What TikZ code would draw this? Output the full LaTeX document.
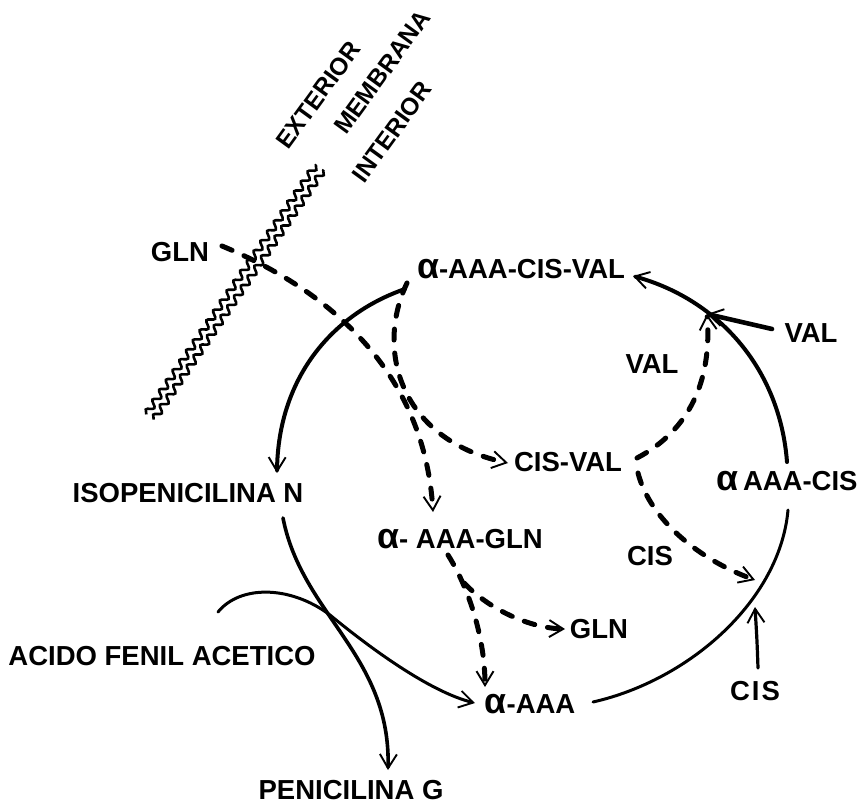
\documentclass[tikz,border=0pt]{standalone}
\usepackage{fontspec}
\setmainfont{Liberation Sans}
\usepackage{graphicx}
\usetikzlibrary{arrows.meta,decorations.pathmorphing}
\newcommand\alf{\scalebox{1.3}{α}}
\begin{document}
\begin{tikzpicture}[x=1pt,y=-1pt,
  lbl/.style={font=\bfseries\fontsize{27.5}{30}\selectfont, inner sep=0pt},
  rlbl/.style={font=\bfseries\fontsize{24.5}{28}\selectfont, inner sep=0pt, rotate=54},
  tip/.style={-{Straight Barb[length=14pt,width=17pt,line width=1.9pt]}},
  solidarc/.style={tip, line width=3.6pt, line cap=round},
  thinarc/.style={line width=3pt, line cap=round},
  dashline/.style={tip, line width=5pt, line cap=round, dash pattern=on 11pt off 13pt},
  membrane/.style={line width=2.6pt, decorate, decoration={snake, segment length=12pt, amplitude=3.2pt}}
]
\useasboundingbox (0,0) rectangle (864,805);

% membrane
\coordinate (ma1) at (146.3,414.4); \coordinate (ma2) at (316.3,164.4);
\coordinate (mb1) at (153.7,419.6); \coordinate (mb2) at (323.7,169.6);
\draw[membrane] (ma1) -- (ma2);
\draw[membrane] (mb1) -- (mb2);

% labels
\node[rlbl] (ext) at (318,95) {EXTERIOR};
\node[rlbl] (mem) at (382,72) {MEMBRANA};
\node[rlbl] (int) at (392,132) {INTERIOR};

\node[lbl] (gln) at (180,252) {GLN};
\node[lbl] (acv) at (521,269) {\alf-AAA-CIS-VAL};
\node[lbl] (valr) at (811,333) {VAL};
\node[lbl] (vali) at (652,364) {VAL};
\node[lbl] (iso) at (188,493) {ISOPENICILINA N};
\node[lbl] (cisval) at (568,462) {CIS-VAL};
\node[lbl] (aaacis) at (787,481) {\alf\,AAA-CIS};
\node[lbl] (aaagln) at (460,539) {\alf- AAA-GLN};
\node[lbl] (cism) at (650,556) {CIS};
\node[lbl] (glnl) at (599,629) {GLN};
\node[lbl] (acido) at (162,656) {ACIDO FENIL ACETICO};
\node[lbl] (aaa) at (530,704) {\alf-AAA};
\node[lbl] (cisb) at (755,691) {C\hspace{2pt}I\hspace{2pt}S};
\node[lbl] (peng) at (351,790) {PENICILINA G};

% connector end points
\coordinate (acv-sw) at (405,289);
\coordinate (acv-d) at (407,283);
\coordinate (acv-e) at (633,276);
\coordinate (iso-n) at (277,473);
\coordinate (iso-s) at (283,518);
\coordinate (peng-n) at (388,770);
\coordinate (acido-s) at (218,612);
\coordinate (aaa-w) at (475,703);
\coordinate (aaa-e) at (593,702);
\coordinate (aaa-n) at (485,687);
\coordinate (aaacis-s) at (788,510);
\coordinate (aaacis-n) at (787,462);
\coordinate (J) at (707,314);
\coordinate (valr-w) at (772,329);
\coordinate (cisval-e) at (637,458);
\coordinate (cisval-se) at (638,473);
\coordinate (cisval-w) at (508,463);
\coordinate (arcpt) at (755,580);
\coordinate (cisb-n) at (758,668);
\coordinate (cisb-tip) at (755,607);
\coordinate (gln-e) at (222,246);
\coordinate (aaagln-n) at (433,512);
\coordinate (aaagln-s) at (448,555);
\coordinate (K) at (464,583);
\coordinate (glnl-w) at (565,629);

% solid arcs
\draw[solidarc, line width=4pt] (acv-sw) .. controls (330,315) and (278,380) .. (iso-n);
\draw[solidarc] (iso-s) .. controls (302,615) and (391,655) .. (peng-n);
\draw[tip, thinarc] (acido-s) .. controls (240,585) and (290,585) .. (330,615)
   .. controls (370,648) and (430,692) .. (aaa-w);
\draw[thinarc] (aaa-e) .. controls (690,680) and (780,600) .. (aaacis-s);
\draw[solidarc, line width=4pt] (aaacis-n) .. controls (780,370) and (720,300) .. (acv-e);
\draw[solidarc, line width=4.6pt] (valr-w) -- (J);
\draw[solidarc, line width=3.2pt] (cisb-n) .. controls (757,640) .. (cisb-tip);

% dashed paths
\draw[dashline] (cisval-e) .. controls (690,430) and (712,380) .. (J);
\draw[dashline] (cisval-se) .. controls (650,520) and (700,560) .. (arcpt);
\draw[dashline] (acv-d) .. controls (375,350) and (400,440) .. (cisval-w);
\draw[dashline] (gln-e) .. controls (340,295) and (425,380) .. (aaagln-n);
\draw[dashline] (aaagln-s) .. controls (470,590) and (485,640) .. (aaa-n);
\draw[dashline] (K) .. controls (490,610) and (530,628) .. (glnl-w);
\end{tikzpicture}
\end{document}
